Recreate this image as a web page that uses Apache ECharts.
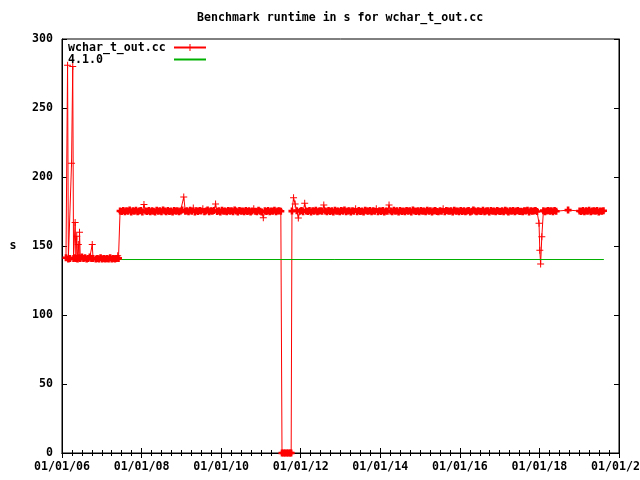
<!DOCTYPE html>
<html><head><meta charset="utf-8">
<script src="https://cdn.jsdelivr.net/npm/echarts@6/dist/echarts.min.js"></script>
<style>html,body{margin:0;padding:0;background:#fff}#c{width:640px;height:480px}</style>
</head><body><div id="c"></div>
<script>
// ---------- data (years as decimal years, runtime in seconds) ----------
const titleText = 'Benchmark runtime in s for wchar_t_out.cc';
const seriesNames = ['wchar_t_out.cc', '4.1.0'];
const yAxisTitle = 's';
const xTickLabels = ['01/01/06', '01/01/08', '01/01/10', '01/01/12', '01/01/14', '01/01/16', '01/01/18', '01/01/20'];
const xFirstYear = 2006, xLastYear = 2020, xTickStep = 2;
const yMin = 0, yMax = 300, yTickStep = 50;

// early runs, 2006 - mid 2007 (explicit [year, seconds])
const earlyRuns = [
  [2006.10,141.5],[2006.14,281],[2006.16,140.5],[2006.20,141],[2006.24,210],[2006.27,280],
  [2006.29,141],[2006.32,141.5],[2006.33,167],[2006.35,141],[2006.37,157],[2006.39,140.5],
  [2006.41,151],[2006.43,141.5],[2006.44,160],[2006.46,141],[2006.50,142],[2006.54,141],
  [2006.58,141.5],[2006.62,140.5],[2006.66,141],[2006.70,142],[2006.74,141],[2006.76,151],
  [2006.78,141],[2006.85,140.5],[2006.89,141],[2006.93,140.5],[2006.97,141.5],[2007.01,140.5],
  [2007.05,141],[2007.09,140.5],[2007.13,141],[2007.17,140.5],[2007.21,141.5],[2007.25,140.5],
  [2007.29,141],[2007.33,140.5],[2007.37,141],[2007.40,143],[2007.42,141]
];
// regular runs, sampled every 0.04 year
const runStep = 0.04;
const runs2007Start = 2007.46;
const runs2007 = [
  175.4,175,175.8,174.8,175.6,175.2,176,174.7,175.5,175.1,
  175.9,174.9,175.3,175.7,174.6,180,175.4,175,175.8,174.8,
  175.6,175.2,174.7,175.9,175.1,175.5,174.9,176,175.3,174.8,
  175.7,175,175.4,174.6,175.8,175.2,175.6,174.9,175.3,176,
  185.5,175.1,175.5,174.8,175.9,175.2,177.5,174.7,175.6,175,
  175.8,175.3,177,174.9,175.4,176,174.8,175.5,175.1,175.7,
  180.4,175,175.6,174.7,175.9,175.2,175.4,174.9,175.8,175.1,
  175.5,174.8,176,175.3,174.6,175.7,175.2,175.4,174.9,175.8,
  175,175.6,174.7,175.3,177,175.1,174.8,175.9,175.2,174.6,
  170.5,175.5,175,175.7,174.8,175.4,175.1,175.9,174.9,175.3,
  175.6,175.2
];
const zeroRuns = [[2011.53,0],[2011.57,0],[2011.61,0],[2011.65,0],[2011.69,0],[2011.73,0],[2011.76,0]];
const runs2011Start = 2011.78;
const runs2011 = [
  175.3,185,180.4,175.6,170.3,175.1,175.8,174.8,181,175.4,
  175,175.7,174.7,175.5,175.2,175.9,174.9,175.4,175.6,175.1,
  179.7,175.3,174.8,175.8,175,175.5,174.6,175.9,175.2,175.4,
  174.9,175.7,175.1,176,174.8,175.3,175.6,174.7,175.5,175.2,
  177,174.9,175.8,175,175.4,174.6,175.9,175.3,175.1,175.7,
  174.8,175.5,175.2,177,174.9,175.6,175,175.8,174.7,175.4,
  175.1,179.7,175.3,174.8,175.9,175.2,175.5,174.6,175.7,175,
  175.4,174.9,175.8,175.1,175.6,174.7,176,175.3,175,175.5,
  174.8,175.7,175.2,175.4,174.9,175.9,175.1,175.6,174.6,175.3,
  175.8,175,174.8,175.5,175.2,177,174.9,175.7,175.3,175.1,
  175.6,174.7,175.9,175.2,175.4,174.8,175.8,175,175.5,174.9,
  175.3,175.7,174.6,175.1,176,175.4,174.8,175.6,175.2,175,
  175.9,174.9,175.3,175.5,174.7,175.8,175.1,175.4,174.8,175.7,
  175.2,175,175.6,174.9,175.9,175.3,174.6,175.5,175.1,175.8,
  174.8,175.4,175.7,175,175.2,174.9,175.6,175.3,175.9,174.7,
  175.5,175.1,175.4,175.8,175
];
const dipRuns = [[2017.99,166.4],[2018.01,147],[2018.03,137],[2018.06,156.7]];
const runs2018Start = 2018.10;
const runs2018 = [175.6,174.9,175.4,175.8,175.1,175.5,174.8,175.7,175.2];
const gapRuns = [[2018.72,176]];
const runs2019Start = 2019.01;
const runs2019 = [175.4,175,175.7,174.8,175.5,175.2,175.9,174.9,175.3,175.6,175.1,175.8,174.7,175.4,175.2,175.5];
// reference release line
const refRuns = [[2006.10,140.2],[2019.62,140.2]];

// ---------- build ----------
function expand(start, values){ return values.map((v,i)=>[+(start + i*runStep).toFixed(3), v]); }
const rawMain = [].concat(earlyRuns, expand(runs2007Start, runs2007), zeroRuns,
  expand(runs2011Start, runs2011), dipRuns, expand(runs2018Start, runs2018), gapRuns,
  expand(runs2019Start, runs2019));

const plusThin = 'path://M0,3H3V0H4V3H7V4H4V7H3V4H0Z';
const plusBold = 'path://M0,2.2H2.2V0H4.8V2.2H7V4.8H4.8V7H2.2V4.8H0Z';
// dense clusters of runs (near the usual level or at zero) are drawn with a heavier cross
const inCluster = v => (v >= 174.4 && v <= 176.2) || (v >= 140 && v <= 142.2) || v === 0;
const mainData = rawMain.map(p => ({value: p, symbol: inCluster(p[1]) ? plusBold : plusThin}));

const FONT = "'DejaVu Sans Mono', monospace";
const FS = 11.6;
const lbl = {fontFamily: FONT, fontWeight: 'bold', fontSize: FS, color: '#000'};

const xBase = {
  type: 'value', min: xFirstYear, max: xLastYear, interval: xTickStep,
  axisLine: {show: true, lineStyle: {color: '#000', width: 1}},
  axisTick: {show: true, inside: true, length: 5, lineStyle: {color: '#000'}},
  minorTick: {show: true, splitNumber: 8, length: 3, lineStyle: {color: '#000'}},
  splitLine: {show: false}, minorSplitLine: {show: false}
};
const yBase = {
  type: 'value', min: yMin, max: yMax, interval: yTickStep,
  axisLine: {show: true, lineStyle: {color: '#000', width: 1}},
  axisTick: {show: true, inside: true, length: 5, lineStyle: {color: '#000'}},
  splitLine: {show: false}
};

const chart = echarts.init(document.getElementById('c'), null, {renderer: 'canvas'});
chart.setOption({
  backgroundColor: '#fff',
  animation: false,
  title: {text: titleText, left: 197, top: 11, padding: 0,
    textStyle: {fontFamily: FONT, fontWeight: 'bold', fontSize: FS, color: '#000', lineHeight: 14}},
  grid: {left: 62, right: 21, top: 39, bottom: 27, containLabel: false, outerBoundsMode: 'none',
    show: true, borderColor: '#000', borderWidth: 1, backgroundColor: 'transparent'},
  legend: {
    orient: 'vertical', left: 68, top: 41.5, padding: 0, itemGap: 0, itemWidth: 32, itemHeight: 9,
    align: 'right', selectedMode: false,
    data: [{name: seriesNames[0]}, {name: seriesNames[1], itemStyle: {opacity: 0}}],
    formatter: n => '{a|' + n + '}',
    textStyle: {rich: {a: Object.assign({width: 101, align: 'left', lineHeight: 13}, lbl)}}
  },
  xAxis: [
    Object.assign({}, xBase, {position: 'bottom',
      axisLabel: Object.assign({show: true, margin: 8, showMinLabel: true, showMaxLabel: true,
        formatter: v => xTickLabels[Math.round((v - xFirstYear) / xTickStep)] || ''}, lbl)}),
    Object.assign({}, xBase, {position: 'top', axisLabel: {show: false}})
  ],
  yAxis: [
    Object.assign({}, yBase, {position: 'left', name: yAxisTitle, nameLocation: 'middle', nameGap: 49, nameRotate: 0,
      nameTextStyle: Object.assign({align: 'center', verticalAlign: 'middle'}, lbl),
      axisLabel: Object.assign({show: true, margin: 9, showMinLabel: true, showMaxLabel: true}, lbl)}),
    Object.assign({}, yBase, {position: 'right', axisLabel: {show: false}})
  ],
  series: [
    {name: seriesNames[0], type: 'line', xAxisIndex: 0, yAxisIndex: 0, data: mainData,
     symbol: plusThin, symbolSize: 7, showSymbol: true, showAllSymbol: true,
     lineStyle: {color: '#ff0000', width: 1}, itemStyle: {color: '#ff0000'},
     emphasis: {disabled: true}, silent: true, clip: true},
    {name: seriesNames[1], type: 'line', xAxisIndex: 0, yAxisIndex: 0, data: refRuns,
     symbol: 'none', lineStyle: {color: '#00b000', width: 1}, itemStyle: {color: '#00b000'},
     emphasis: {disabled: true}, silent: true}
  ]
});
</script></body></html>
